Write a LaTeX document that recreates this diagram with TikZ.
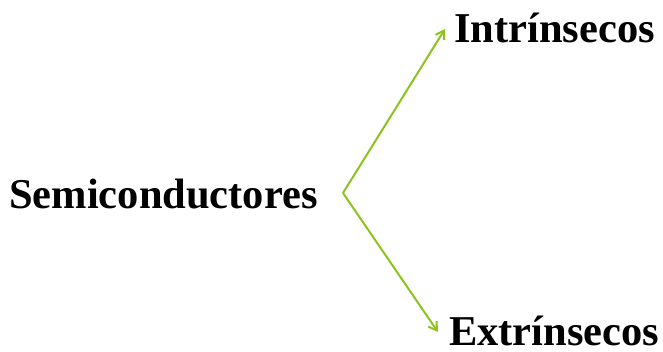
\documentclass[tikz,border=0pt]{standalone}
\usepackage{fontspec}
\setmainfont{Liberation Serif}
\usetikzlibrary{arrows.meta}
\definecolor{branchgreen}{HTML}{8CC31F}
\tikzset{
  label text/.style={font=\fontsize{42.5}{48}\selectfont\bfseries, inner sep=0pt, anchor=base west},
  branch/.style={draw=branchgreen, line width=2pt, -{Straight Barb[length=8pt,width=10pt,line width=2pt]}}
}
\begin{document}
\begin{tikzpicture}[x=1pt,y=-1pt]
  \useasboundingbox (0,0) rectangle (663,351);
  \node[label text] (semi) at (9,208) {Semiconductores};
  \node[label text] (intr) at (454,42) {Intrínsecos};
  \node[label text] (extr) at (449,345) {Extrínsecos};
  \coordinate (fork) at (343,193);
  \coordinate (uptip) at (445,29);
  \coordinate (downtip) at (438,332);
  \draw[branch] (fork) -- (uptip);
  \draw[branch] (fork) -- (downtip);
\end{tikzpicture}
\end{document}
